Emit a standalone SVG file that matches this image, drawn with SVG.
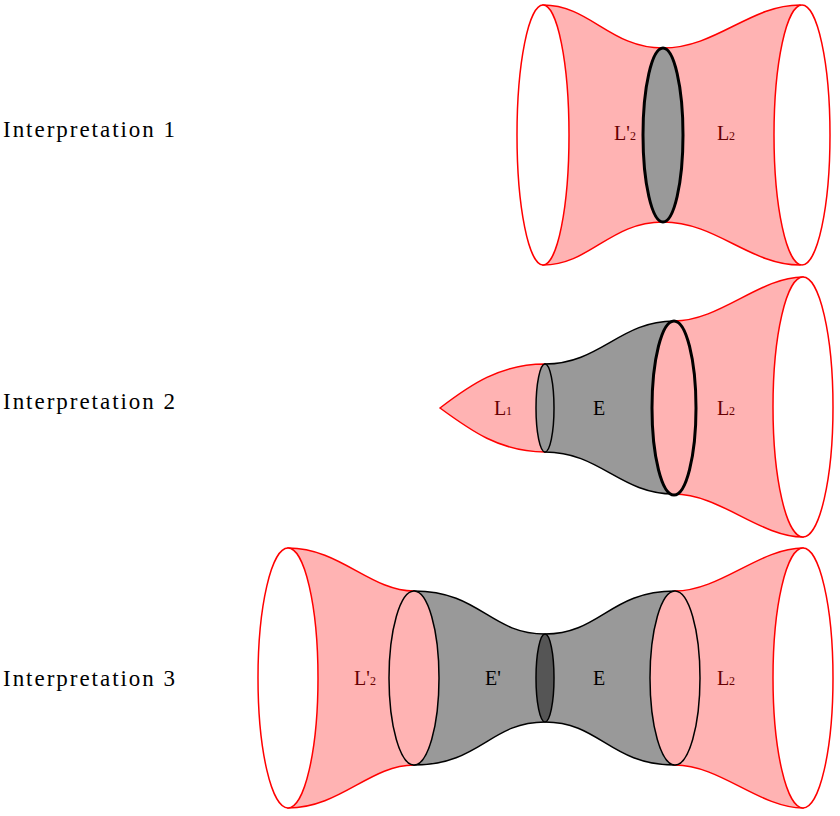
<svg xmlns="http://www.w3.org/2000/svg" width="840" height="816" viewBox="0 0 840 816">
<style>
.pk{fill:#ffb3b3;stroke:#f00;stroke-width:1.5}
.pb{fill:#ffb3b3;stroke:#000;stroke-width:1.5}
.gr{fill:#999;stroke:#000;stroke-width:1.5}
.wo{fill:#fff;stroke:#f00;stroke-width:1.5}
.thick{stroke-width:3}
.t{font-family:"Liberation Serif",serif;font-size:23px;fill:#000}
.l{font-family:"Liberation Serif",serif;font-size:20px;fill:#600;text-anchor:middle}
.k{fill:#000}
.s{font-size:12px}
</style>
<rect width="840" height="816" fill="#fff"/>
<g id="connectors"></g>
<g id="interp1">
<path class="pk" d="M543,5 C590,5 610,48 663,48 C716,48 750,5 800,5 L800,265 C750,265 716,222 663,222 C610,222 590,265 543,265 Z"/>
<ellipse class="wo" cx="543" cy="135" rx="26" ry="130"/>
<ellipse class="wo" cx="802" cy="135" rx="28" ry="130"/>
<ellipse class="gr thick" cx="663" cy="135" rx="20" ry="87"/>
<text class="t" x="3" y="137" textLength="172">Interpretation 1</text>
<text class="l" x="625" y="140">L'<tspan class="s">2</tspan></text>
<text class="l" x="726" y="140">L<tspan class="s">2</tspan></text>
</g>
<g id="interp2">
<path class="pk" d="M440,408 C470,385 500,364 545,364 L545,452 C500,452 470,430 440,408 Z"/>
<path class="gr" d="M545,364 C600,364 620,321 674,321 L674,494 C620,494 600,452 545,452 Z"/>
<path class="pk" d="M674,321 C720,321 760,277 803,277 L803,537 C760,537 720,494 674,494 Z"/>
<ellipse class="gr" cx="545" cy="408" rx="9" ry="44"/>
<ellipse class="pb thick" cx="674" cy="408" rx="22" ry="87"/>
<ellipse class="wo" cx="803" cy="407" rx="30" ry="130"/>
<text class="t" x="3" y="409" textLength="172">Interpretation 2</text>
<text class="l" x="503" y="415">L<tspan class="s">1</tspan></text>
<text class="l k" x="599" y="415">E</text>
<text class="l" x="726" y="415">L<tspan class="s">2</tspan></text>
</g>
<g id="interp3">
<path class="pk" d="M288,548 C340,548 370,591 414,591 L414,765 C370,765 340,808 288,808 Z"/>
<path class="gr" d="M414,591 C480,591 490,634 545,634 C600,634 610,591 675,591 L675,765 C610,765 600,722 545,722 C490,722 480,765 414,765 Z"/>
<path class="pk" d="M675,591 C720,591 760,548 803,548 L803,808 C760,808 720,765 675,765 Z"/>
<ellipse class="wo" cx="288" cy="678" rx="30" ry="130"/>
<ellipse class="pb" cx="414" cy="678" rx="25" ry="87"/>
<ellipse cx="545" cy="678" rx="9" ry="44" fill="#555" stroke="#000" stroke-width="1.5"/>
<ellipse class="pb" cx="675" cy="678" rx="25" ry="87"/>
<ellipse class="wo" cx="803" cy="678" rx="30" ry="130"/>
<text class="t" x="3" y="686" textLength="172">Interpretation 3</text>
<text class="l" x="365" y="685">L'<tspan class="s">2</tspan></text>
<text class="l k" x="493" y="685">E'</text>
<text class="l k" x="599" y="685">E</text>
<text class="l" x="726" y="685">L<tspan class="s">2</tspan></text>
</g>
</svg>
